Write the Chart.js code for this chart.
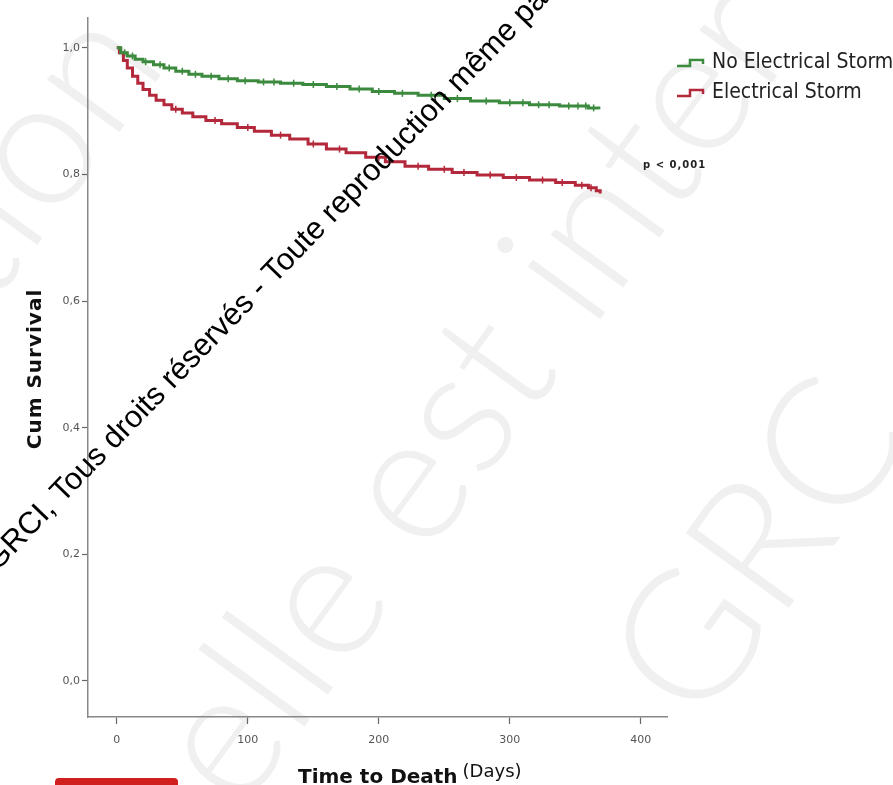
<!DOCTYPE html>
<html>
<head>
<meta charset="utf-8">
<script src="https://cdn.jsdelivr.net/npm/chart.js@4.4.0/dist/chart.umd.min.js"></script>
<style>
  html, body { margin: 0; padding: 0; background: #fff; }
  #wrap { width: 893px; height: 785px; }
</style>
</head>
<body>
<div id="wrap"><canvas id="kmChart" width="893" height="785"></canvas></div>
<script>
// Kaplan-Meier data (days, cumulative survival)
const noStormTimes = [0, 3, 8, 14, 20, 28, 36, 45, 55, 65, 78, 92, 108, 125, 142, 160, 178, 195, 212, 230, 250, 270, 292, 315, 338, 360, 368];
const noStormSurv  = [1.000, 0.992, 0.987, 0.982, 0.978, 0.973, 0.968, 0.963, 0.958, 0.955, 0.951, 0.948, 0.946, 0.944, 0.942, 0.939, 0.935, 0.931, 0.928, 0.925, 0.920, 0.916, 0.913, 0.910, 0.908, 0.905, 0.903];

const stormTimes = [0, 2, 5, 8, 12, 16, 20, 25, 30, 36, 42, 50, 58, 68, 80, 92, 105, 118, 132, 146, 160, 175, 190, 205, 220, 238, 256, 275, 295, 315, 335, 350, 360, 366, 369];
const stormSurv  = [1.000, 0.992, 0.980, 0.968, 0.955, 0.944, 0.934, 0.925, 0.917, 0.910, 0.903, 0.897, 0.891, 0.885, 0.880, 0.874, 0.868, 0.862, 0.856, 0.848, 0.840, 0.834, 0.827, 0.820, 0.813, 0.808, 0.803, 0.799, 0.795, 0.791, 0.787, 0.783, 0.779, 0.774, 0.770];

// censored observations (tick marks)
const noStormCensor = [6, 12, 22, 33, 40, 50, 60, 72, 85, 98, 112, 120, 135, 150, 168, 185, 200, 218, 240, 260, 282, 300, 310, 322, 330, 345, 352, 358, 364];
const stormCensor = [45, 75, 100, 125, 150, 170, 200, 230, 250, 265, 285, 305, 325, 340, 355, 362];

const xTicks = [0, 100, 200, 300, 400];
const yTicks = [0, 0.2, 0.4, 0.6, 0.8, 1.0];

const seriesNames = ['No Electrical Storm', 'Electrical Storm'];
const GREEN = '#3b8a3e';
const RED = '#b3283a';

function toPoints(times, surv) {
    return times.map((t, i) => ({ x: t, y: surv[i] }));
}

// survival value at a censor time (last step at or before t)
function survAt(times, surv, t) {
    let v = surv[0];
    for (let i = 0; i < times.length; i++) {
        if (times[i] <= t) v = surv[i];
    }
    return v;
}

function censorPoints(cTimes, times, surv) {
    return cTimes.map(t => ({ x: t, y: survAt(times, surv, t) }));
}

// faint background watermark + black diagonal watermark + labels
const decorPlugin = {
    id: 'decor',
    beforeDraw(chart) {
        const ctx = chart.ctx;
        ctx.save();
        ctx.fillStyle = '#f0f0f0';
        ctx.font = '300 180px Lato';
        const draws = [
            ['tion', -10, 310],
            ['elle est inter', 240, 815],
            ['GRC', 700, 730]
        ];
        draws.forEach(([txt, x, y]) => {
            ctx.save();
            ctx.translate(x, y);
            ctx.rotate(-54 * Math.PI / 180);
            ctx.fillText(txt, 0, 0);
            ctx.restore();
        });
        ctx.restore();
    },
    afterDraw(chart) {
        const ctx = chart.ctx;
        ctx.save();

        // legend
        const items = [[GREEN, 63], [RED, 93]];
        items.forEach(([col, y], i) => {
            ctx.strokeStyle = col;
            ctx.lineWidth = 2.5;
            ctx.beginPath();
            ctx.moveTo(677, y + 3);
            ctx.lineTo(690, y + 3);
            ctx.lineTo(690, y - 3);
            ctx.lineTo(703, y - 3);
            ctx.lineTo(703, y + 1);
            ctx.stroke();
            ctx.fillStyle = '#222';
            ctx.font = '21px "DejaVu Sans Condensed"';
            ctx.textBaseline = 'middle';
            ctx.fillText(seriesNames[i], 712, y);
        });

        // p-value
        ctx.font = 'bold 10px "DejaVu Sans"';
        ctx.fillStyle = '#222';
        ctx.letterSpacing = '1px';
        ctx.fillText('p < 0,001', 643, 165);

        // axis titles
        ctx.fillStyle = '#111';
        ctx.font = 'bold 20px "DejaVu Sans"';
        ctx.save();
        ctx.translate(36, 369);
        ctx.rotate(-Math.PI / 2);
        ctx.textAlign = 'center';
        ctx.fillText('Cum Survival', 0, 0);
        ctx.restore();
        ctx.letterSpacing = '0px';

        ctx.textBaseline = 'alphabetic';
        ctx.font = 'bold 20px "DejaVu Sans"';
        ctx.fillText('Time to Death', 298, 783);
        const w = ctx.measureText('Time to Death').width;
        ctx.font = '18px "DejaVu Sans"';
        ctx.fillText('(Days)', 298 + w + 5, 777);

        // red tab at bottom
        ctx.fillStyle = '#d11f1f';
        ctx.beginPath();
        ctx.roundRect(55, 778, 123, 12, 4);
        ctx.fill();

        // diagonal copyright text
        ctx.fillStyle = '#000';
        ctx.font = '31px "Liberation Sans"';
        ctx.translate(-3, 572);
        ctx.rotate(-46 * Math.PI / 180);
        ctx.fillText('GRCI, Tous droits réservés - Toute reproduction même partielle', 0, 0);
        ctx.restore();
    }
};

const ctx = document.getElementById('kmChart');

new Chart(ctx, {
    type: 'line',
    data: {
        datasets: [
            {
                label: seriesNames[0],
                data: toPoints(noStormTimes, noStormSurv),
                borderColor: GREEN,
                borderWidth: 3,
                stepped: 'before',
                pointRadius: 0,
                fill: false
            },
            {
                label: seriesNames[1],
                data: toPoints(stormTimes, stormSurv),
                borderColor: RED,
                borderWidth: 3,
                stepped: 'before',
                pointRadius: 0,
                fill: false
            },
            {
                label: 'censor0',
                data: censorPoints(noStormCensor, noStormTimes, noStormSurv),
                showLine: false,
                pointStyle: 'line',
                rotation: 90,
                pointRadius: 3.5,
                borderColor: GREEN,
                pointBorderWidth: 1.5
            },
            {
                label: 'censor1',
                data: censorPoints(stormCensor, stormTimes, stormSurv),
                showLine: false,
                pointStyle: 'line',
                rotation: 90,
                pointRadius: 3.5,
                borderColor: RED,
                pointBorderWidth: 1.5
            }
        ]
    },
    options: {
        responsive: false,
        animation: false,
        layout: { padding: { top: 18, right: 226, left: 0, bottom: 0 } },
        plugins: {
            legend: { display: false },
            tooltip: { enabled: false }
        },
        scales: {
            x: {
                type: 'linear',
                min: -22,
                max: 420,
                afterBuildTicks: (scale) => { scale.ticks = xTicks.map(v => ({ value: v })); },
                afterFit: (scale) => { scale.height = 68; },
                grid: { display: true, drawOnChartArea: false, drawTicks: true, tickLength: 7, color: '#666', tickWidth: 1.2 },
                border: { display: true, color: '#888', width: 1.5 },
                ticks: {
                    color: '#555',
                    font: { family: 'DejaVu Sans', size: 11 },
                    padding: 10,
                    maxRotation: 0
                }
            },
            y: {
                type: 'linear',
                min: -0.057,
                max: 1.047,
                afterBuildTicks: (scale) => { scale.ticks = yTicks.map(v => ({ value: v })); },
                afterFit: (scale) => { scale.width = 88; },
                grid: { display: true, drawOnChartArea: false, drawTicks: true, tickLength: 6, color: '#666', tickWidth: 1.2 },
                border: { display: true, color: '#888', width: 1.5 },
                ticks: {
                    color: '#555',
                    font: { family: 'DejaVu Sans', size: 11 },
                    padding: 2,
                    callback: (v) => v.toFixed(1).replace('.', ',')
                }
            }
        }
    },
    plugins: [decorPlugin]
});
</script>
</body>
</html>
